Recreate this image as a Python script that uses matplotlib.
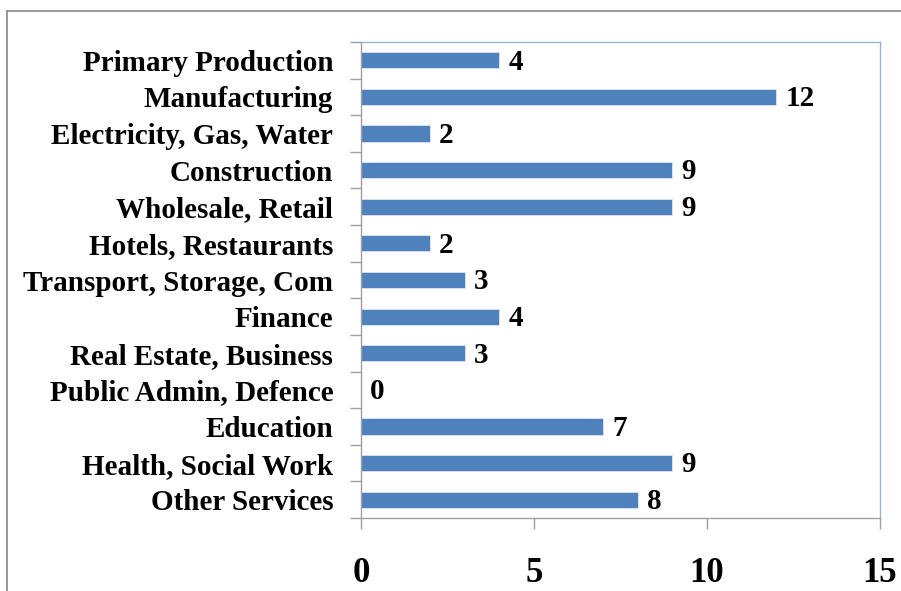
import matplotlib.pyplot as plt
from matplotlib.lines import Line2D

categories = ["Primary Production", "Manufacturing", "Electricity, Gas, Water",
              "Construction", "Wholesale, Retail", "Hotels, Restaurants",
              "Transport, Storage, Com", "Finance", "Real Estate, Business",
              "Public Admin, Defence", "Education", "Health, Social Work",
              "Other Services"]
values = [4, 12, 2, 9, 9, 2, 3, 4, 3, 0, 7, 9, 8]
xticks = [0, 5, 10, 15]

plt.rcParams['font.family'] = ['Liberation Serif', 'DejaVu Serif']
plt.rcParams['font.weight'] = 'bold'

fig = plt.figure(figsize=(9.01, 5.91), dpi=100)
ax = fig.add_axes([361 / 901, 1 - 518 / 591, 519 / 901, 476 / 591])

pos = list(range(len(categories)))
ax.barh(pos, values, height=0.44, color="#4F81BD", edgecolor="#DCE6F2", linewidth=0.6)
for y, v in zip(pos, values):
    ax.text(v + 0.26, y + 0.05, str(v), va="center", ha="left", fontsize=21, fontweight="bold")

ax.set_xlim(0, 15)
ax.set_ylim(len(categories) - 0.5, -0.5)
ax.set_xticks(xticks)
ax.set_xticklabels([str(t) for t in xticks], fontsize=25, fontweight="bold")
ax.tick_params(axis="x", length=8, width=1, color="#A0A0A0", pad=20)

# category labels in the middle, tick marks on the boundaries
ax.set_yticks(pos)
ax.set_yticklabels(categories, fontsize=21, fontweight="bold")
ax.tick_params(axis="y", which="major", length=0, pad=20)
ax.set_yticks([p - 0.5 for p in pos] + [len(pos) - 0.5], minor=True)
ax.tick_params(axis="y", which="minor", length=8, width=1, color="#A0A0A0")

for side in ["left", "bottom"]:
    ax.spines[side].set_color("#A0A0A0")
for side in ["top", "right"]:
    ax.spines[side].set_color("#95B3D7")
for s in ax.spines.values():
    s.set_linewidth(1)

# outer chart border
fig.add_artist(Line2D([7 / 901, 1], [1 - 11 / 591, 1 - 11 / 591], color="#888888", lw=1.2))
fig.add_artist(Line2D([7 / 901, 7 / 901], [0, 1 - 11 / 591], color="#888888", lw=1.2))

fig.savefig("out.png", dpi=100)
